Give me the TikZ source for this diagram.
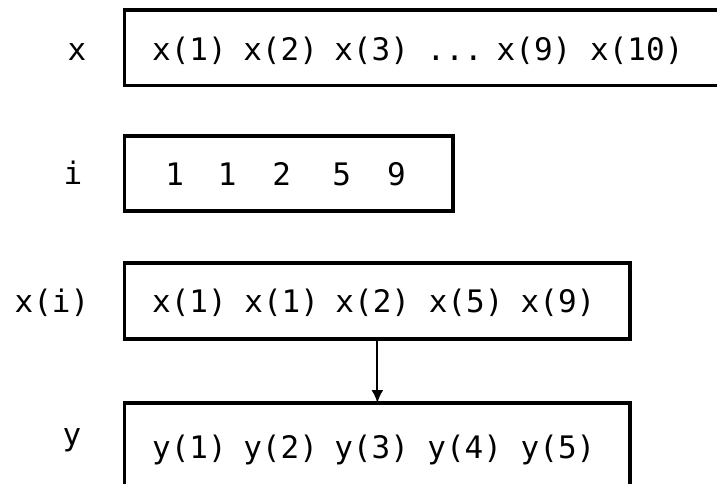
\documentclass[tikz,border=0pt]{standalone}
\usepackage{fontspec}
\newfontfamily\monofnt{DejaVu Sans Mono}
\usetikzlibrary{arrows.meta}
\tikzset{
  arr/.style={draw, rectangle, line width=3.2pt, inner sep=0pt, outer sep=0pt},
  txt/.style={anchor=base, inner sep=0pt, font=\monofnt\fontsize{31}{37}\selectfont},
  link/.style={line width=2.2pt, -{Latex[length=13pt,width=12pt]}}
}
\begin{document}
\begin{tikzpicture}[x=1pt,y=-1pt]
\clip (0,0) rectangle (717,483);
% boxes
\node[arr, minimum width=615pt, minimum height=75.5pt] (b1) at (432.2,47.75) {};
\node[arr, minimum width=328.3pt, minimum height=75pt] (b2) at (288.85,173.5) {};
\node[arr, minimum width=505.3pt, minimum height=76pt] (b3) at (377.35,301) {};
\node[arr, minimum width=505.3pt, minimum height=97pt] (b4) at (377.35,451.5) {};
% row labels
\node[txt] (lx) at (77,60) {x};
\node[txt] (li) at (73,184) {i};
\node[txt] (lxi) at (52,312) {x(i)};
\node[txt] (ly) at (72,445) {y};
% row 1
\node[txt] (a1) at (189.5,60) {x(1)};
\node[txt] (a2) at (280.6,60) {x(2)};
\node[txt] (a3) at (371.6,60) {x(3)};
\node[txt] (a4) at (454.7,60) {...};
\node[txt] (a5) at (534,60) {x(9)};
\node[txt] (a6) at (636.8,60) {x(10)};
% row 2
\node[txt] (i1) at (174.8,185) {1};
\node[txt] (i2) at (227.1,185) {1};
\node[txt] (i3) at (281.7,185) {2};
\node[txt] (i4) at (341.8,185) {5};
\node[txt] (i5) at (396.4,185) {9};
% row 3
\node[txt] (c1) at (189.5,312) {x(1)};
\node[txt] (c2) at (281.7,312) {x(1)};
\node[txt] (c3) at (372.8,312) {x(2)};
\node[txt] (c4) at (466.1,312) {x(5)};
\node[txt] (c5) at (558,312) {x(9)};
% row 4
\node[txt] (d1) at (189.5,458) {y(1)};
\node[txt] (d2) at (280.6,458) {y(2)};
\node[txt] (d3) at (371.6,458) {y(3)};
\node[txt] (d4) at (464.7,458) {y(4)};
\node[txt] (d5) at (558,458) {y(5)};
% connector
\draw[link] (b3.south) -- (b4.north);
\end{tikzpicture}
\end{document}
